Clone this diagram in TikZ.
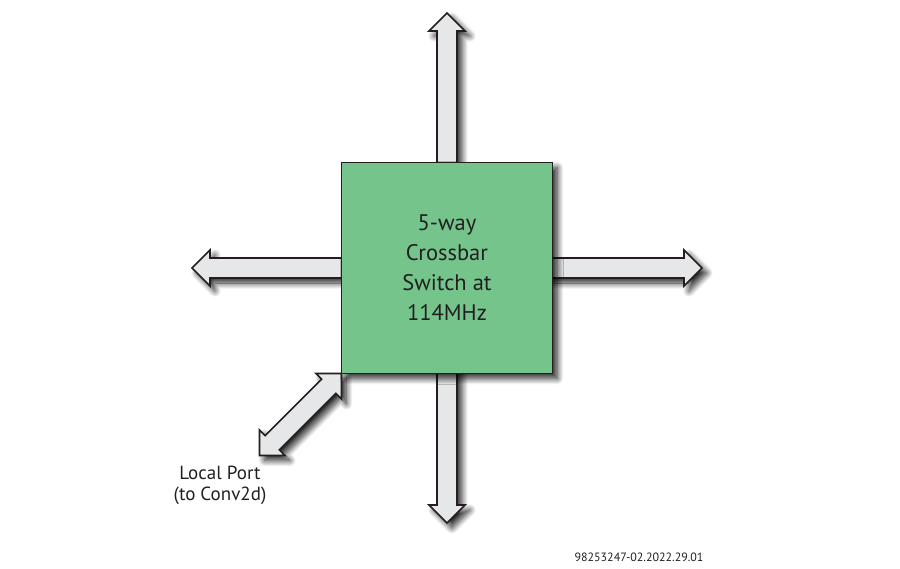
\documentclass[tikz,border=0pt]{standalone}
\usepackage{fontspec}
\setmainfont{PT Sans}
\usetikzlibrary{shadows.blur,calc}
\definecolor{boxgreen}{RGB}{116,196,139}
\definecolor{arrowgray}{RGB}{230,231,232}
\definecolor{inkblack}{RGB}{35,31,32}
\tikzset{
  softshadow/.style={blur shadow={shadow xshift=5pt, shadow yshift=-5pt, shadow blur radius=6pt, shadow blur steps=14, shadow opacity=85}},
  blockarrow/.style={draw=inkblack, line width=1.6pt, fill=arrowgray, line join=miter, softshadow},
  switchbox/.style={draw=inkblack, line width=1.6pt, fill=boxgreen, minimum width=211pt, minimum height=211pt, inner sep=0pt, softshadow, align=center, text=inkblack, font=\fontsize{22.5}{30}\selectfont},
  caption/.style={align=center, text=inkblack, font=\fontsize{19}{21}\selectfont, inner sep=0pt},
  figid/.style={text=inkblack, font=\fontsize{12}{14}\selectfont, inner sep=0pt}
}
\begin{document}
\begin{tikzpicture}[x=1pt,y=1pt]
\path[use as bounding box] (-447,268) rectangle (453,-300);
% north arrow
\draw[blockarrow] (-10,0) -- (-10,237) -- (-18,237) -- (0,255) -- (18,237) -- (10,237) -- (10,0) -- cycle;
% south arrow
\draw[blockarrow] (-10,0) -- (-10,-237) -- (-18,-237) -- (0,-255) -- (18,-237) -- (10,-237) -- (10,0) -- cycle;
% west arrow
\draw[blockarrow] (0,-10) -- (-237,-10) -- (-237,-18) -- (-255,0) -- (-237,18) -- (-237,10) -- (0,10) -- cycle;
% east arrow
\draw[blockarrow] (0,-10) -- (237,-10) -- (237,-18) -- (255,0) -- (237,18) -- (237,10) -- (0,10) -- cycle;
% local port arrow (double headed)
\coordinate (S) at (-105.5,-105.5);
\coordinate (E) at ($(S)+(225:116)$);
\draw[blockarrow] (S) -- ($(S)+(225:18)+(315:18)$) -- ($(S)+(225:18)+(315:10)$)
  -- ($(E)+(45:18)+(315:10)$) -- ($(E)+(45:18)+(315:18)$) -- (E)
  -- ($(E)+(45:18)+(135:18)$) -- ($(E)+(45:18)+(135:10)$)
  -- ($(S)+(225:18)+(135:10)$) -- ($(S)+(225:18)+(135:18)$) -- cycle;
% switch
\node[switchbox] (sw) at (0,0) {5-way\\Crossbar\\Switch at\\114MHz};
\node[caption] (local) at (-227,-217) {Local Port\\(to Conv2d)};
\node[figid] (id) at (192,-289.5) {98253247-02.2022.29.01};
\end{tikzpicture}
\end{document}
